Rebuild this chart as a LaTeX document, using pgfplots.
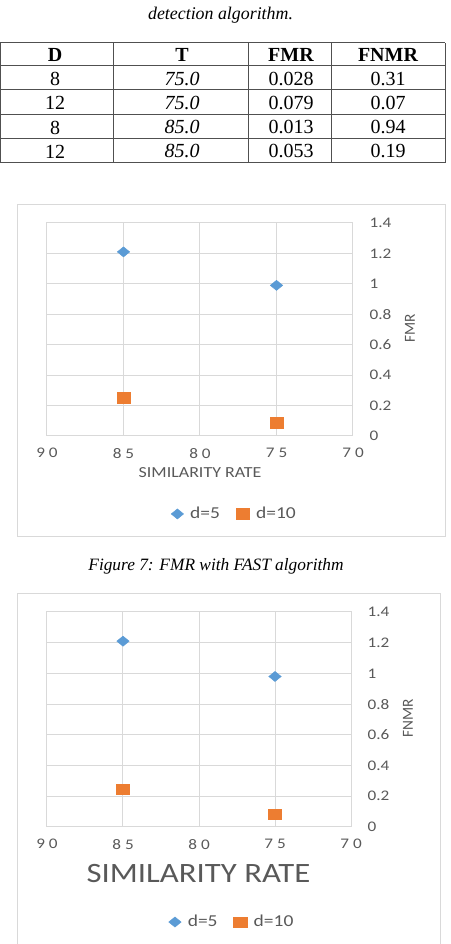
\documentclass[border=0pt]{standalone}
\usepackage{fontspec}
\setmainfont{Liberation Serif}
\newfontfamily\chartfont[FakeStretch=1.17]{Carlito}
\newfontfamily\chartplain{Carlito}
\usepackage{pgfplots}
\pgfplotsset{compat=1.18}
\definecolor{gridgray}{HTML}{D9D9D9}
\definecolor{txtgray}{HTML}{595959}
\definecolor{xlblue}{HTML}{5B9BD5}
\definecolor{xlorange}{HTML}{ED7D31}
\definecolor{tblline}{HTML}{505050}
\pgfplotsset{excelscatter/.style={
  scale only axis,
  x dir=reverse, xmin=70, xmax=90, ymin=0, ymax=1.4,
  xtick={90,85,80,75,70},
  xticklabels={9\hspace{3pt}0,8\hspace{3pt}5,8\hspace{3pt}0,7\hspace{3pt}5,7\hspace{3pt}0},
  ytick={0,0.2,0.4,0.6,0.8,1,1.2,1.4},
  yticklabels={0,0.2,0.4,0.6,0.8,1,1.2,1.4},
  yticklabel pos=right,
  grid=major,
  major grid style={gridgray, line width=0.75pt},
  axis line style={gridgray, line width=0.75pt},
  major tick length=0pt,
  tick label style={font=\chartfont\fontsize{11}{13}\selectfont, text=txtgray},
  yticklabel style={anchor=west, xshift=9pt},
  xticklabel style={anchor=north, yshift=-5.5pt},
  legend style={draw=none, fill=none, font=\chartfont\fontsize{12.5}{15}\selectfont, text=txtgray,
    anchor=center,
    /tikz/every odd column/.append style={column sep=3pt},
    /tikz/every even column/.append style={column sep=10pt}},
  legend columns=2,
  clip=false,
}}
\begin{document}
\begin{tikzpicture}
\path[use as bounding box] (0pt,0pt) rectangle (337.5pt,708pt);
% caption above table
\node[anchor=base, font=\fontsize{13.4}{16}\selectfont\itshape] at (165.4pt,693pt) {detection algorithm.};
% table
\begin{scope}[draw=tblline, line width=0.75pt]
\foreach \yy in {675.98,658.5,640.5,622.3,603.98,585.98} {\draw (0pt,\yy pt) -- (333.75pt,\yy pt);}
\foreach \xx in {0.375,85,186.4,248.6,333.75} {\draw (\xx pt,585.98pt) -- (\xx pt,675.98pt);}
\end{scope}
\begin{scope}[every node/.style={anchor=center, font=\fontsize{15}{18}\selectfont}]
\node[font=\fontsize{15}{18}\selectfont\bfseries] at (41.25pt,666.4pt) {D};
\node[font=\fontsize{15}{18}\selectfont\bfseries] at (136.5pt,666.4pt) {T};
\node[font=\fontsize{15}{18}\selectfont\bfseries] at (218.25pt,666.4pt) {FMR};
\node[font=\fontsize{15}{18}\selectfont\bfseries] at (291pt,666.4pt) {FNMR};
\node at (41.25pt,648.75pt) {8};
\node at (136.5pt,648.75pt) {\itshape 75.0};
\node at (218.25pt,648.75pt) {0.028};
\node at (291pt,648.75pt) {0.31};
\node at (41.25pt,630.75pt) {12};
\node at (136.5pt,630.75pt) {\itshape 75.0};
\node at (218.25pt,630.75pt) {0.079};
\node at (291pt,630.75pt) {0.07};
\node at (41.25pt,612.4pt) {8};
\node at (136.5pt,612.4pt) {\itshape 85.0};
\node at (218.25pt,612.4pt) {0.013};
\node at (291pt,612.4pt) {0.94};
\node at (41.25pt,594.4pt) {12};
\node at (136.5pt,594.4pt) {\itshape 85.0};
\node at (218.25pt,594.4pt) {0.053};
\node at (291pt,594.4pt) {0.19};
\end{scope}
% chart frames
\draw[gridgray, line width=0.75pt] (12.75pt,305.25pt) rectangle (333.75pt,554.25pt);
\draw[gridgray, line width=0.75pt] (12.75pt,-4.5pt) rectangle (330pt,262.5pt);
% chart 1
\begin{axis}[excelscatter, at={(35.25pt,381pt)}, anchor=south west,
  width=229.5pt, height=159.75pt,
  legend style={at={(0.614,-0.366)}}]
\addplot[only marks, color=xlblue, mark=diamond*, mark size=3.75pt,
  mark options={xscale=1.64, fill=xlblue, draw=xlblue}] coordinates {(85,1.21) (75,0.99)};
\addlegendentry{d=5}
\addplot[only marks, color=xlorange, mark=square*, mark size=3.9pt,
  mark options={xscale=1.29, fill=xlorange, draw=xlorange}] coordinates {(85,0.25) (75,0.088)};
\addlegendentry{d=10}
\end{axis}
\node[font=\chartfont\fontsize{11.5}{13}\selectfont, text=txtgray] at (150pt,353.25pt) {SIMILARITY RATE};
\node[rotate=90, font=\chartplain\fontsize{11.5}{13}\selectfont, text=txtgray] at (307.5pt,462pt) {FMR};
% figure caption
\node[anchor=base, font=\fontsize{13}{16}\selectfont\itshape] at (162pt,280pt) {Figure 7: FMR with FAST algorithm};
% chart 2
\begin{axis}[excelscatter, at={(35.25pt,87.75pt)}, anchor=south west,
  width=228pt, height=161.25pt,
  legend style={at={(0.61,-0.442)}}]
\addplot[only marks, color=xlblue, mark=diamond*, mark size=3.75pt,
  mark options={xscale=1.64, fill=xlblue, draw=xlblue}] coordinates {(85,1.21) (75,0.98)};
\addlegendentry{d=5}
\addplot[only marks, color=xlorange, mark=square*, mark size=3.9pt,
  mark options={xscale=1.29, fill=xlorange, draw=xlorange}] coordinates {(85,0.245) (75,0.083)};
\addlegendentry{d=10}
\end{axis}
\node[font=\chartfont\fontsize{21}{24}\selectfont, text=txtgray] at (148.9pt,52.5pt) {SIMILARITY RATE};
\node[rotate=90, font=\chartplain\fontsize{11.5}{13}\selectfont, text=txtgray] at (306pt,169.5pt) {FNMR};
\end{tikzpicture}
\end{document}
